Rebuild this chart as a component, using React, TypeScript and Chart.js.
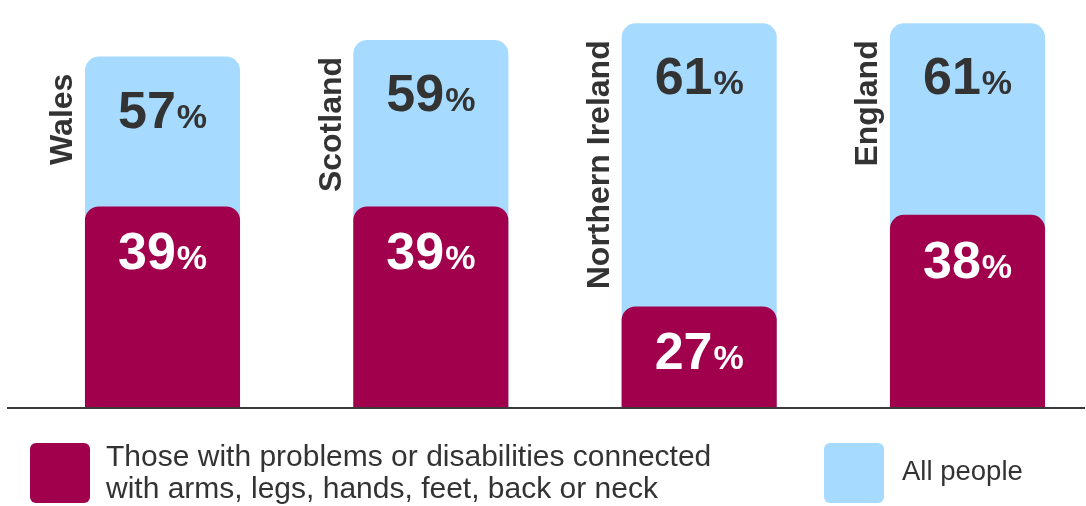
import React, { useEffect, useRef } from "react";
import { Chart, registerables } from "chart.js";

Chart.register(...registerables);

const categories = ["Wales", "Scotland", "Northern Ireland", "England"];
const disabilityValues = [39, 39, 27, 38];
const allPeopleValues = [57, 59, 61, 61];
const seriesNames = [
  "Those with problems or disabilities connected with arms, legs, hands, feet, back or neck",
  "All people",
];
const legendLines = [
  ["Those with problems or disabilities connected", "with arms, legs, hands, feet, back or neck"],
  ["All people"],
];

const Y_MIN = 14.8;
const Y_MAX = 63.8;
const RED = "#A1004D";
const BLUE = "#A6DBFF";
const DARK = "#333333";
const FONT = '"Liberation Sans", Arial, Helvetica, sans-serif';

const labelsPlugin = {
  id: "customLabels",
  afterDatasetsDraw(chart: any) {
    const ctx = chart.ctx as CanvasRenderingContext2D;
    const yScale = chart.scales.y;
    const baseY = yScale.getPixelForValue(yScale.min);

    // baseline axis
    ctx.save();
    ctx.strokeStyle = "#3a3a3a";
    ctx.lineWidth = 2;
    ctx.beginPath();
    ctx.moveTo(7, baseY);
    ctx.lineTo(1085, baseY);
    ctx.stroke();
    ctx.restore();

    // value labels
    chart.data.datasets.forEach((ds: any, di: number) => {
      const meta = chart.getDatasetMeta(di);
      meta.data.forEach((el: any, i: number) => {
        const v = ds.data[i];
        const digits = String(v);
        ctx.save();
        ctx.textBaseline = "alphabetic";
        ctx.textAlign = "left";
        ctx.font = `bold 52px ${FONT}`;
        const wD = ctx.measureText(digits).width;
        ctx.font = `bold 34px ${FONT}`;
        const wP = ctx.measureText("%").width;
        const total = wD + wP + 1;
        const sx = el.x - total / 2;
        const by = el.y + (di === 0 ? 63 : 71);
        ctx.fillStyle = di === 0 ? "#ffffff" : DARK;
        ctx.font = `bold 52px ${FONT}`;
        ctx.fillText(digits, sx, by);
        ctx.font = `bold 34px ${FONT}`;
        ctx.fillText("%", sx + wD + 1, by);
        ctx.restore();
      });
    });

    // rotated category labels beside the tall bars
    const tallMeta = chart.getDatasetMeta(1);
    tallMeta.data.forEach((el: any, i: number) => {
      const left = el.x - el.width / 2;
      ctx.save();
      ctx.translate(left - 12.5, el.y + 17);
      ctx.rotate(-Math.PI / 2);
      ctx.font = `bold 32px ${FONT}`;
      ctx.fillStyle = DARK;
      ctx.textAlign = "right";
      ctx.textBaseline = "alphabetic";
      ctx.fillText(categories[i], 0, 0);
      ctx.restore();
    });

    // legend
    const items = [
      { x: 30, color: chart.data.datasets[0].backgroundColor, tx: 106, size: 30, baselines: [466, 498] },
      { x: 824, color: chart.data.datasets[1].backgroundColor, tx: 902, size: 27.5, baselines: [480] },
    ];
    items.forEach((b, i) => {
      ctx.save();
      ctx.fillStyle = b.color;
      ctx.beginPath();
      (ctx as any).roundRect(b.x, 443, 60, 60, 6);
      ctx.fill();
      ctx.fillStyle = DARK;
      ctx.font = `${b.size}px ${FONT}`;
      ctx.textAlign = "left";
      ctx.textBaseline = "alphabetic";
      legendLines[i].forEach((line, li) => {
        ctx.fillText(line, b.tx, b.baselines[li]);
      });
      ctx.restore();
    });
  },
};

export default function App() {
  const ref = useRef<HTMLCanvasElement>(null);
  useEffect(() => {
    if (!ref.current) return;
    const common = {
      borderRadius: 14,
      borderSkipped: "start",
      grouped: false,
      categoryPercentage: 1,
      barPercentage: 0.578,
      base: Y_MIN,
      clip: false,
    };
    const chart = new Chart(ref.current, {
      type: "bar",
      data: {
        labels: categories,
        datasets: [
          { label: seriesNames[0], data: disabilityValues, backgroundColor: RED, ...common } as any,
          { label: seriesNames[1], data: allPeopleValues, backgroundColor: BLUE, ...common } as any,
        ],
      },
      options: {
        animation: false,
        responsive: true,
        maintainAspectRatio: false,
        layout: { padding: { left: 162.5, right: 118.5, top: 0, bottom: 98 } },
        plugins: { legend: { display: false }, tooltip: { enabled: false } },
        scales: {
          x: { display: false, offset: false },
          y: { display: false, min: Y_MIN, max: Y_MAX },
        },
      },
      plugins: [labelsPlugin],
    });
    return () => chart.destroy();
  }, []);
  return (
    <div style={{ position: "absolute", left: 0, top: 0, width: 1086, height: 506, background: "#fff" }}>
      <canvas ref={ref} />
    </div>
  );
}
